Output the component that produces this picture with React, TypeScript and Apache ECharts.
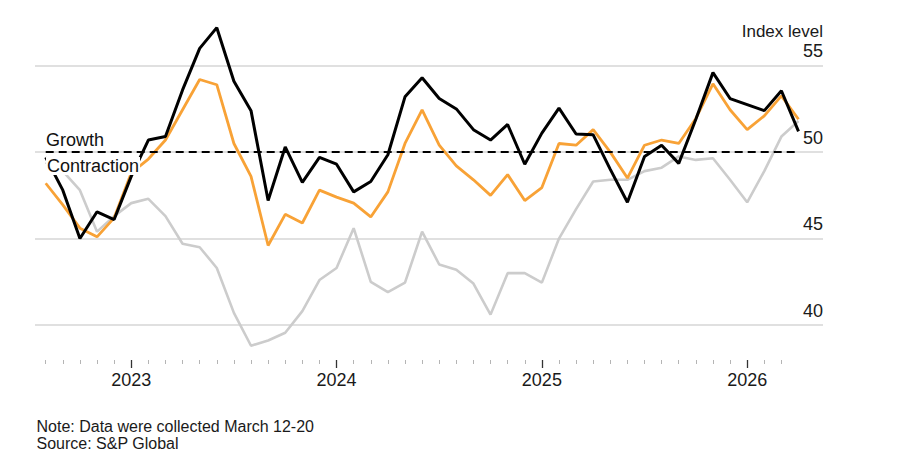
import React, { useEffect, useRef } from "react";
import * as echarts from "echarts";

// Month ticks (each category is a monthly tick on the time axis)
const months = [
  "2022-08", "2022-09", "2022-10", "2022-11", "2022-12",
  "2023-01", "2023-02", "2023-03", "2023-04", "2023-05", "2023-06",
  "2023-07", "2023-08", "2023-09", "2023-10", "2023-11", "2023-12",
  "2024-01", "2024-02", "2024-03", "2024-04", "2024-05", "2024-06",
  "2024-07", "2024-08", "2024-09", "2024-10", "2024-11", "2024-12",
  "2025-01", "2025-02", "2025-03", "2025-04", "2025-05", "2025-06",
  "2025-07", "2025-08", "2025-09", "2025-10", "2025-11", "2025-12",
  "2026-01", "2026-02", "2026-03", "2026-04",
];

// Black line
const servicesValues = [
  49.7, 47.8, 45.0, 46.55, 46.1, 48.6, 50.7, 50.9, 53.6, 56.0, 57.2, 54.1,
  52.4, 47.2, 50.3, 48.25, 49.7, 49.3, 47.7, 48.3, 49.85, 53.2, 54.3, 53.1,
  52.5, 51.3, 50.7, 51.6, 49.3, 51.1, 52.55, 51.05, 51.0, 49.0, 47.1, 49.75,
  50.4, 49.35, 51.9, 54.6, 53.1, 52.75, 52.4, 53.55, 51.2,
];

// Orange line
const compositeValues = [
  48.2, 46.95, 45.6, 45.1, 46.2, 48.8, 49.6, 50.7, 52.45, 54.2, 53.9, 50.5,
  48.6, 44.6, 46.4, 45.9, 47.8, 47.4, 47.05, 46.25, 47.7, 50.5, 52.45, 50.4,
  49.2, 48.4, 47.5, 48.7, 47.2, 47.95, 50.5, 50.4, 51.3, 50.0, 48.5, 50.4,
  50.7, 50.5, 51.95, 53.95, 52.45, 51.3, 52.1, 53.25, 51.9,
];

// Gray line
const manufacturingValues = [
  49.4, 48.9, 47.8, 45.4, 46.3, 47.05, 47.3, 46.3, 44.7, 44.5, 43.3, 40.7,
  38.8, 39.1, 39.55, 40.8, 42.6, 43.3, 45.6, 42.5, 41.9, 42.45, 45.4, 43.5,
  43.2, 42.4, 40.6, 43.0, 43.0, 42.45, 45.0, 46.7, 48.3, 48.4, 48.4, 48.9,
  49.1, 49.75, 49.55, 49.65, 48.4, 47.1, 48.9, 50.9, 51.8,
];

const yMin = 40;
const yMax = 55;
const yInterval = 5;
const thresholdValue = 50;

const FONT = '"Liberation Sans", Arial, Helvetica, sans-serif';

export default function App() {
  const ref = useRef<HTMLDivElement>(null);

  useEffect(() => {
    if (!ref.current) return;
    const chart = echarts.init(ref.current, undefined, { renderer: "svg" });

    const isYearStart = (_i: number, v: string) => v.endsWith("-01");

    const option: any = {
      animation: false,
      backgroundColor: "#ffffff",
      grid: [
        { left: 35, right: 77, top: 65.7, bottom: 130 },
        { left: 45.7, right: 101.5, top: 65.7, bottom: 130 },
      ],
      xAxis: [
        { gridIndex: 0, type: "value", show: false, min: 0, max: 1 },
        {
          gridIndex: 1,
          type: "category",
          data: months,
          boundaryGap: false,
          position: "bottom",
          offset: 35,
          axisLine: { show: false, onZero: false },
          axisTick: {
            show: true,
            length: 4,
            interval: (i: number) => i < months.length - 1,
            lineStyle: { color: "#b5b5b5", width: 1 },
          },
          axisLabel: { show: false },
          splitLine: { show: false },
        },
        {
          gridIndex: 1,
          type: "category",
          data: months,
          boundaryGap: false,
          position: "bottom",
          offset: 35,
          axisLine: { show: false, onZero: false },
          axisTick: {
            show: true,
            length: 8,
            interval: isYearStart,
            lineStyle: { color: "#333333", width: 1.3 },
          },
          axisLabel: {
            show: true,
            interval: isYearStart,
            formatter: (v: string) => v.slice(0, 4),
            color: "#1a1a1a",
            fontSize: 18,
            fontFamily: FONT,
            margin: 11,
          },
          splitLine: { show: false },
        },
      ],
      yAxis: [
        {
          gridIndex: 0,
          type: "value",
          min: yMin,
          max: yMax,
          interval: yInterval,
          position: "right",
          axisLine: { show: false },
          axisTick: { show: false },
          splitLine: { show: true, lineStyle: { color: "#d6d6d6", width: 1.5 } },
          axisLabel: {
            inside: true,
            margin: 0,
            color: "#1a1a1a",
            fontSize: 18,
            fontFamily: FONT,
            verticalAlign: "bottom",
            lineHeight: 29,
          },
        },
        {
          gridIndex: 1,
          type: "value",
          min: yMin,
          max: yMax,
          interval: yInterval,
          show: false,
          splitLine: { show: false },
        },
      ],
      series: [
        {
          name: "Manufacturing",
          type: "line",
          xAxisIndex: 1,
          yAxisIndex: 1,
          data: manufacturingValues,
          symbol: "none",
          clip: false,
          lineStyle: { color: "#cccccc", width: 2.6 },
          z: 2,
        },
        {
          name: "Composite",
          type: "line",
          xAxisIndex: 1,
          yAxisIndex: 1,
          data: compositeValues,
          symbol: "none",
          clip: false,
          lineStyle: { color: "#f8a236", width: 2.8 },
          z: 3,
        },
        {
          name: "Services",
          type: "line",
          xAxisIndex: 1,
          yAxisIndex: 1,
          data: servicesValues,
          symbol: "none",
          clip: false,
          lineStyle: { color: "#000000", width: 3 },
          z: 4,
          markLine: {
            silent: true,
            symbol: "none",
            label: { show: false },
            lineStyle: { color: "#000000", width: 2.2, type: [8, 5] },
            data: [
              [
                { coord: [months[0], thresholdValue] },
                { coord: [months[months.length - 1], thresholdValue] },
              ],
            ],
          },
        },
      ],
      graphic: [
        {
          type: "text",
          z: 100,
          x: 823,
          y: 31,
          style: {
            text: "Index level",
            fill: "#1a1a1a",
            fontSize: 17,
            fontFamily: FONT,
            align: "right",
            verticalAlign: "middle",
          },
        },
        {
          type: "text",
          z: 100,
          x: 46,
          y: 140,
          style: {
            text: "Growth",
            fill: "#111111",
            fontSize: 18,
            fontFamily: FONT,
            align: "left",
            verticalAlign: "middle",
          },
        },
        {
          type: "text",
          z: 100,
          x: 46,
          y: 166,
          style: {
            text: "Contraction",
            fill: "#111111",
            fontSize: 18,
            fontFamily: FONT,
            align: "left",
            verticalAlign: "middle",
            backgroundColor: "#ffffff",
            padding: [0, 1, 0, 1],
          },
        },
        {
          type: "text",
          z: 100,
          x: 36.5,
          y: 426.7,
          style: {
            text: "Note: Data were collected March 12-20",
            fill: "#1a1a1a",
            fontSize: 16,
            fontFamily: FONT,
            align: "left",
            verticalAlign: "middle",
          },
        },
        {
          type: "text",
          z: 100,
          x: 36.5,
          y: 443.5,
          style: {
            text: "Source: S&P Global",
            fill: "#1a1a1a",
            fontSize: 16,
            fontFamily: FONT,
            align: "left",
            verticalAlign: "middle",
          },
        },
      ],
    };

    chart.setOption(option);
    return () => chart.dispose();
  }, []);

  return (
    <div
      ref={ref}
      style={{ position: "absolute", left: 0, top: 0, width: 900, height: 455 }}
    />
  );
}
